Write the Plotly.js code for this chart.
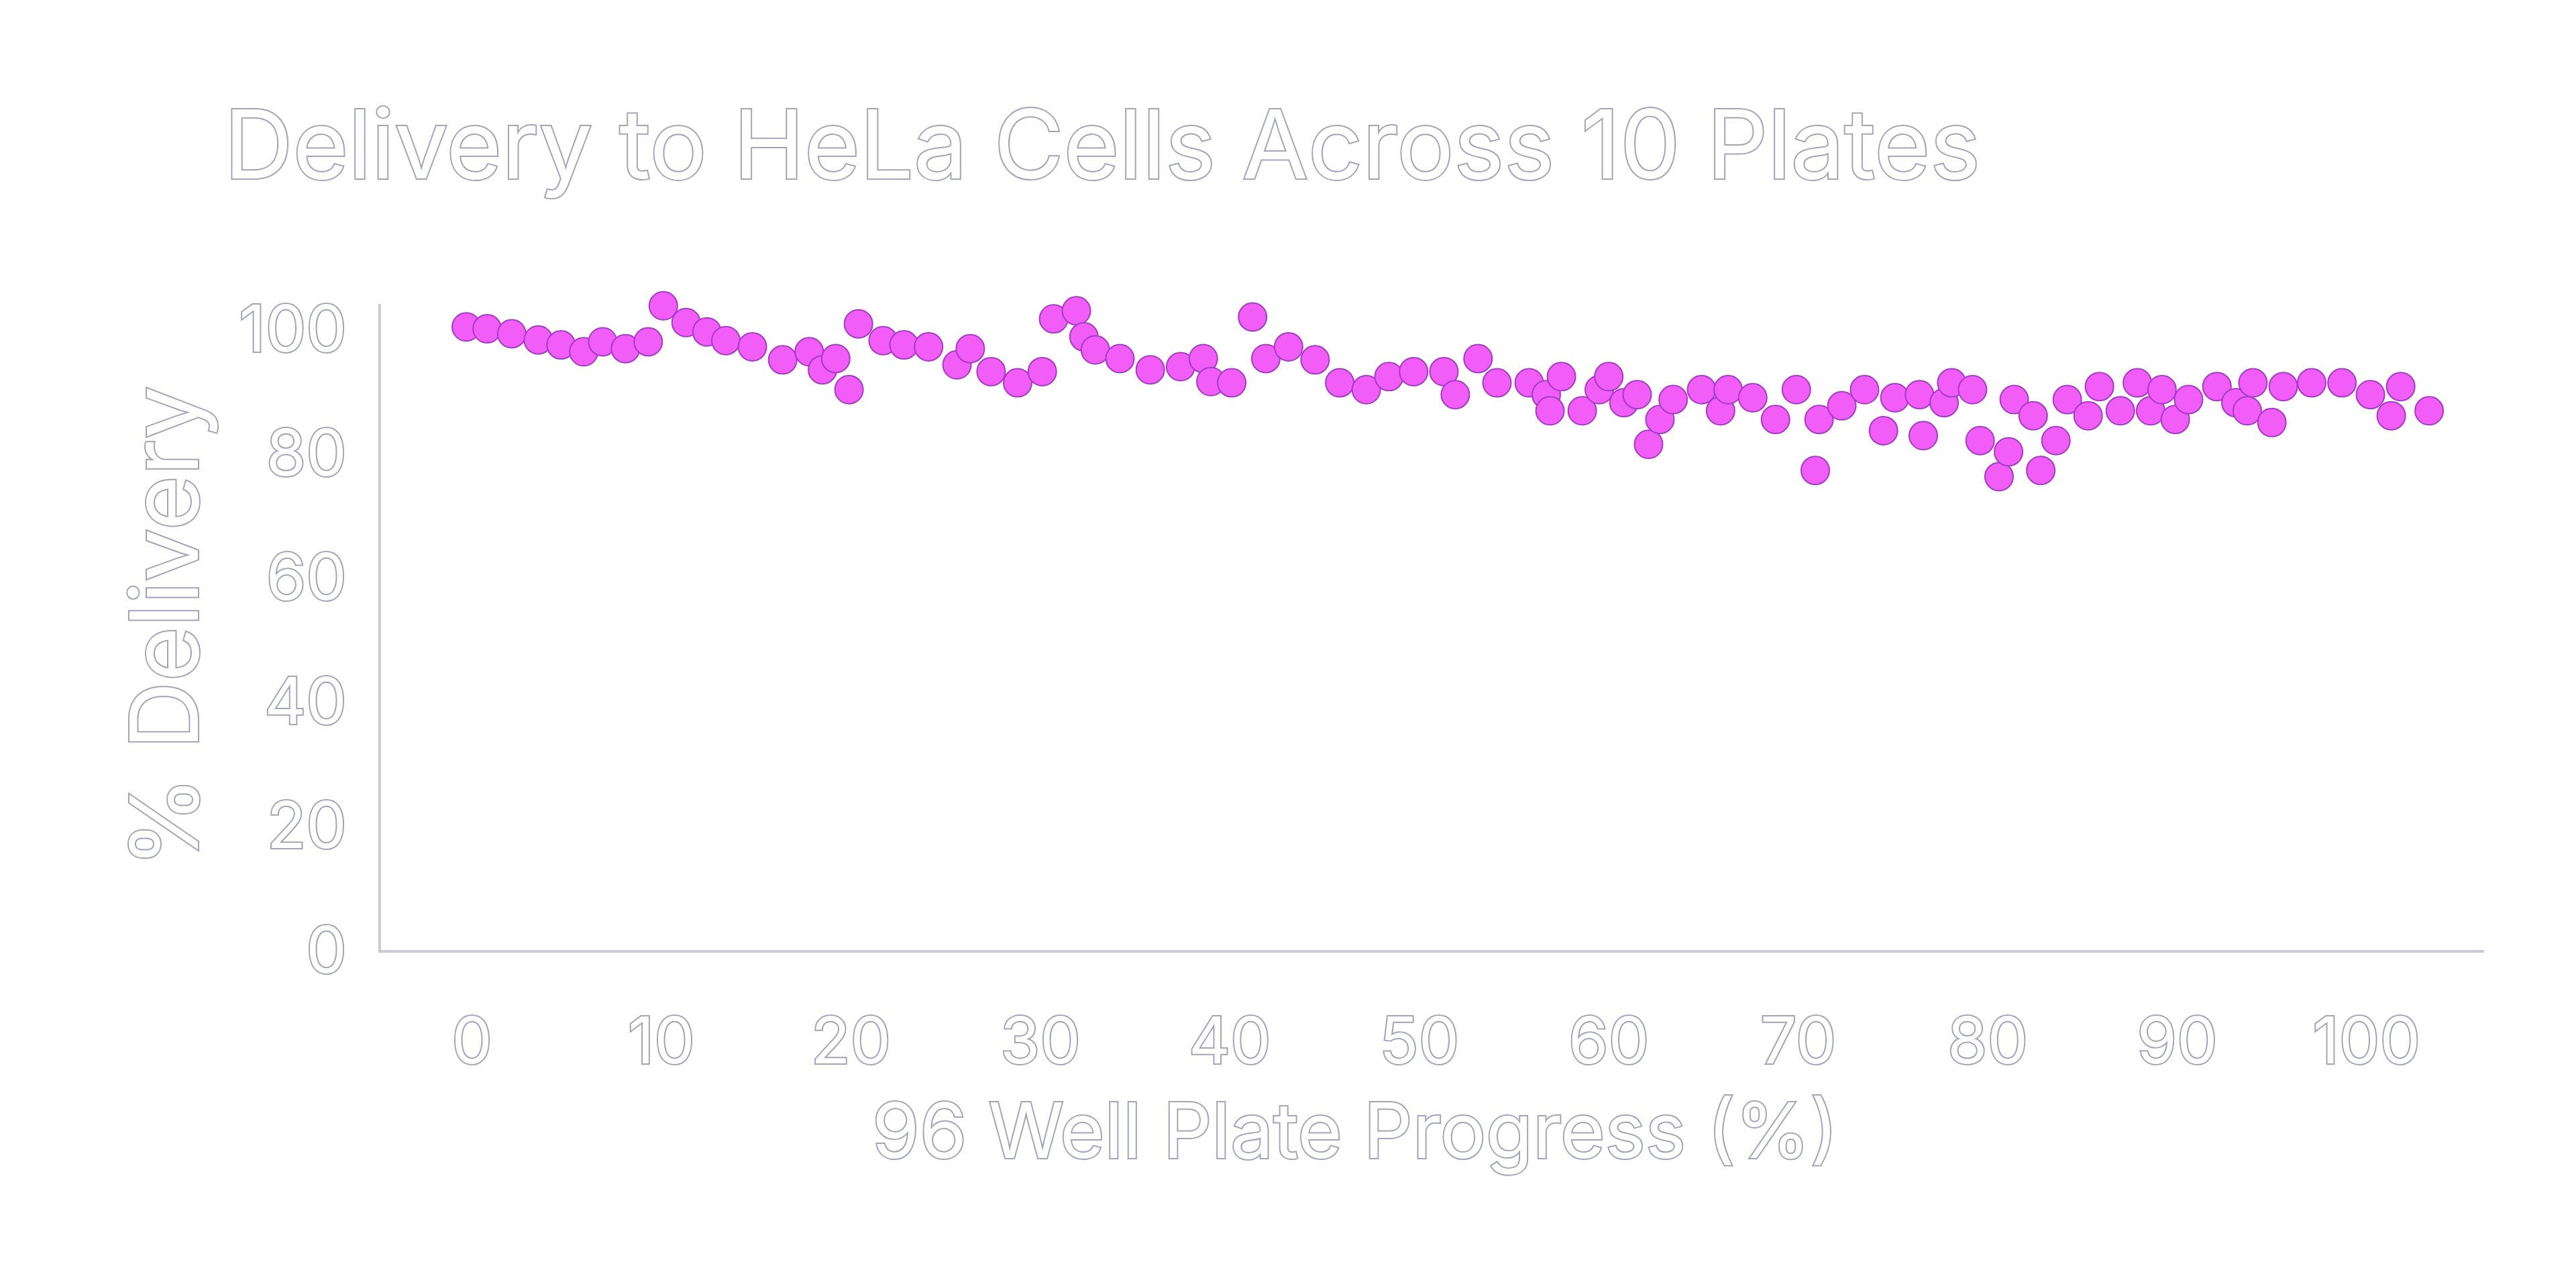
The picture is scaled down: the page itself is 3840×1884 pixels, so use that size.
<!DOCTYPE html>
<html><head><meta charset="utf-8">
<script src="https://cdn.plot.ly/plotly-3.0.1.min.js"></script>
<style>
html,body{margin:0;padding:0;background:#fff;}
#chart text{fill:#ffffff !important;stroke:#a3a3bd !important;stroke-width:4px !important;paint-order:stroke;}
</style>
</head><body>
<div id="chart" style="width:3840px;height:1884px;"></div>
<script>
const progress = [-0.3,0.8,2.1,3.5,4.7,5.9,6.9,8.1,9.3,10.1,11.3,12.4,13.4,14.8,16.4,17.8,18.5,19.2,19.9,20.4,21.7,22.8,24.1,25.6,26.3,27.4,28.8,30.1,30.7,31.9,32.3,32.9,34.2,35.8,37.4,38.6,39.0,40.1,41.2,41.9,43.1,44.5,45.8,47.2,48.4,49.7,51.3,51.9,53.1,54.1,55.8,56.7,56.9,57.5,58.6,59.5,60.0,60.8,61.5,62.1,62.7,63.4,64.9,65.9,66.3,67.6,68.8,69.9,70.9,71.1,72.3,73.5,74.5,75.1,76.4,76.6,77.7,78.1,79.2,79.6,80.6,81.1,81.4,82.4,82.8,83.6,84.2,85.3,85.9,87.0,87.9,88.6,89.2,89.9,90.6,92.1,93.1,93.7,94.0,95.0,95.6,97.1,98.7,100.2,101.3,101.8,103.3];
const delivery = [100.3,100,99.2,98.2,97.4,96.3,97.9,96.8,97.9,103.7,101,99.5,98.1,97.1,95,96.3,93.4,95.2,90.2,100.8,98.1,97.4,97.1,94.2,96.8,93.1,91.3,93.1,101.6,102.9,98.7,96.6,95.2,93.4,93.9,95.2,91.5,91.3,101.9,95.2,97.1,95,91.3,90.2,92.3,93.1,93.1,89.4,95.2,91.3,91.3,89.4,86.8,92.3,86.8,90.2,92.3,88.1,89.4,81.4,85.4,88.6,90.2,86.8,90.2,88.9,85.4,90.2,77.2,85.4,87.6,90.2,83.6,88.9,89.4,82.8,88.1,91.3,90.2,82.0,76.2,80.2,88.6,86,77.2,82,88.6,86,90.7,86.8,91.3,86.8,90.2,85.4,88.6,90.7,88.1,86.8,91.3,84.9,90.7,91.3,91.3,89.4,86,90.7,86.8];
const xTicks = [0,10,20,30,40,50,60,70,80,90,100];
const yTicks = [0,20,40,60,80,100];

const fam = 'Inter, Roboto, sans-serif';
const tickFont = {family:fam, size:96, color:'#ffffff'};
Plotly.newPlot('chart', [{
  x: progress, y: delivery, type:'scatter', mode:'markers', cliponaxis:false,
  marker:{size:42, color:'#f25cf7', line:{color:'#a23bc8', width:2}}
}], {
  width:3840, height:1884, paper_bgcolor:'#fff', plot_bgcolor:'#fff',
  margin:{l:568, r:137, t:453, b:468},
  showlegend:false,
  title:{text:'Delivery to HeLa Cells Across 10 Plates', x:0.087, xanchor:'left', y:0.885, yanchor:'middle',
         font:{family:fam, size:142, color:'#ffffff'}},
  annotations:[{text:'96 Well Plate Progress (%)', xref:'paper', yref:'paper', x:0.463, y:-0.279,
         xanchor:'center', yanchor:'middle', showarrow:false, font:{family:fam, size:114, color:'#fff'}}],
  xaxis:{range:[-4.8,106.2], tickvals:xTicks, ticks:'outside', ticklen:50, tickcolor:'rgba(0,0,0,0)',
         showgrid:false, zeroline:false, showline:true, linecolor:'#c9c9d9', linewidth:4,
         tickfont:tickFont},
  yaxis:{range:[0,104], tickvals:yTicks, ticks:'outside', ticklen:28, tickcolor:'rgba(0,0,0,0)',
         showgrid:false, zeroline:false, showline:true, linecolor:'#c9c9d9', linewidth:4,
         tickfont:tickFont,
         title:{text:'% Delivery', standoff:15, font:{family:fam, size:140, color:'#fff'}}}
}, {staticPlot:true});
</script>
</body></html>
